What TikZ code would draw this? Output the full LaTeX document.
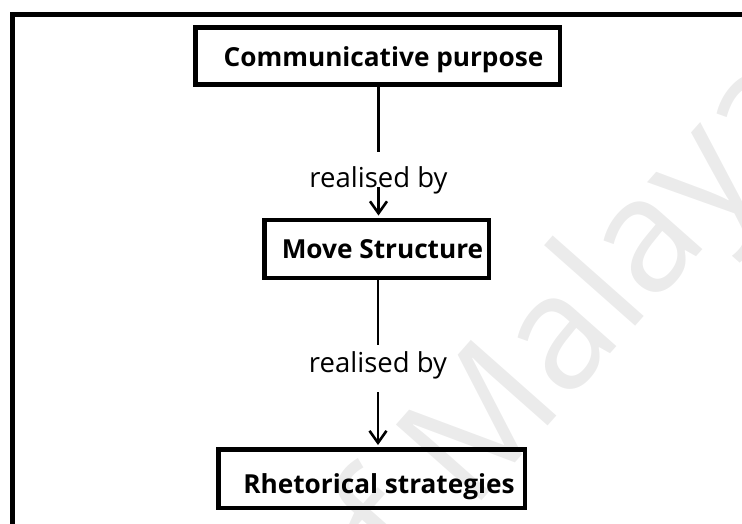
\documentclass[tikz,border=0pt]{standalone}
\usepackage{fontspec}
\setmainfont{Open Sans}
\usetikzlibrary{arrows.meta}
\begin{document}
\begin{tikzpicture}[x=1pt,y=-1pt,
  stagebox/.style={draw, line width=4.5pt, inner sep=0pt,
    font=\bfseries\fontsize{26.2}{31}\selectfont},
  linkline/.style={line width=2.6pt},
  linkarrow/.style={linkline, -{Straight Barb[length=12pt,width=17pt]}, shorten >=2.2pt},
  linklabel/.style={inner sep=0pt, font=\fontsize{27.5}{32}\selectfont},
  watermark/.style={text=black!8, inner sep=0pt, rotate=48.5,
    font=\fontsize{160}{160}\selectfont}]
\useasboundingbox (0,0) rectangle (742,524);
\clip (0,0) rectangle (742,524);

% faint background watermark
\coordinate (wm) at (626,337);
\node[watermark, anchor=base east] (wmA) at (wm) {of Ma};
\node[watermark, anchor=base west] (wmB) at (wm) {laya};

% outer frame (runs past the right and bottom edges)
\draw[line width=5pt] (12.5,560) -- (12.5,15) -- (790,15);

% the three levels
\node[stagebox, anchor=base, minimum width=364.5pt,
      text height=39.5pt, text depth=17.5pt] (purpose) at (377.75,67)
  {\kern11.5pt Communicative purpose};
\node[stagebox, anchor=base, minimum width=224.5pt,
      text height=38pt, text depth=20pt] (move) at (376.75,258)
  {\kern11.5pt Move Structure};
\node[stagebox, anchor=base, minimum width=306.5pt,
      text height=43.5pt, text depth=15pt] (rhet) at (371.75,493)
  {\kern14.5pt Rhetorical strategies};

% link labels (their boxes leave the gaps in the connectors)
\node[linklabel, anchor=base, text height=35pt, text depth=0pt] (by1) at (378.5,187) {realised by};
\node[linklabel, anchor=base, text height=27pt, text depth=20pt] (by2) at (378,372) {realised by};

% connectors
\draw[linkline] (purpose.south -| by1) -- (by1.north);
\draw[linkarrow] (by1.south) -- (by1.south |- move.north);
\draw[linkline] (move.south -| by2) -- (by2.north);
\draw[linkarrow] (by2.south) -- (by2.south |- rhet.north);
\end{tikzpicture}
\end{document}
